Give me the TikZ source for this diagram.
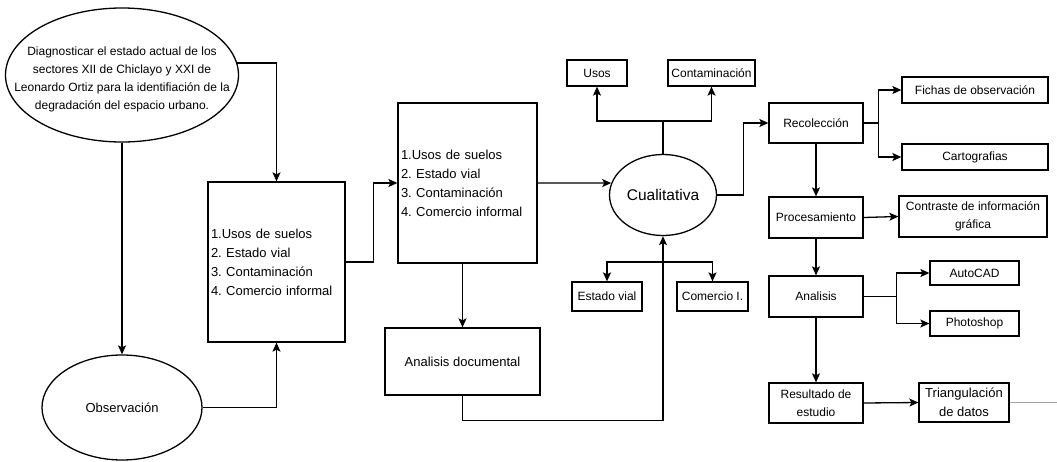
\documentclass[tikz,border=0pt]{standalone}
\usepackage{fontspec}
\setmainfont{Liberation Sans}
\usetikzlibrary{arrows.meta,shapes.geometric}
\begin{document}
\frenchspacing
\begin{tikzpicture}[x=1pt,y=-1pt,
  line width=1.3pt,
  arr/.style={-{Stealth[length=9pt,width=8pt,inset=2pt]}},
  box/.style={draw, rectangle, inner sep=2pt, align=center, font=\fontsize{12}{18}\selectfont},
  oval/.style={draw, ellipse, inner sep=0pt},
  txt/.style={align=center, inner sep=0pt, font=\fontsize{12}{18}\selectfont},
  listbox/.style={draw, rectangle, inner xsep=3pt, align=left, font=\fontsize{13}{19}\selectfont, minimum height=160pt}
]
\useasboundingbox (0,0) rectangle (1057,461);

% left part
\node[oval, minimum width=233pt, minimum height=134pt] (diag) at (122,75) {};
\node[txt] (diagt) at (122,79) {Diagnosticar el estado actual de los\\sectores XII de Chiclayo y XXI de\\Leonardo Ortiz para la identifiación de la\\degradación del espacio urbano.};
\node[oval, minimum width=160pt, minimum height=105pt, font=\fontsize{13}{16}\selectfont] (obs) at (122,407.5) {Observación};
\node[listbox, minimum width=137pt, text width=131pt] (b1) at (276.5,262) {1.Usos de suelos\\2. Estado vial\\3. Contaminación\\4. Comercio informal};
\node[listbox, minimum width=139pt, text width=133pt] (b2) at (467.5,183) {1.Usos de suelos\\2. Estado vial\\3. Contaminación\\4. Comercio informal};
\node[box, minimum width=155pt, minimum height=67pt, font=\fontsize{13}{16}\selectfont] (ad) at (462.5,361.5) {Analisis documental};

% middle
\node[oval, minimum width=107pt, minimum height=81pt, font=\fontsize{15.5}{18}\selectfont] (cual) at (663,195) {Cualitativa};
\node[box, minimum width=60pt, minimum height=26pt] (usos) at (597,73) {Usos};
\node[box, minimum width=87pt, minimum height=26pt] (cont) at (711.5,73) {Contaminación};
\node[box, minimum width=70pt, minimum height=29pt] (ev) at (607,296.5) {Estado vial};
\node[box, minimum width=71pt, minimum height=29pt] (ci) at (712.5,296.5) {Comercio I.};

% right
\node[box, minimum width=94pt, minimum height=40pt] (rec) at (816,123) {Recolección};
\node[box, minimum width=146pt, minimum height=26pt] (fichas) at (975,90) {Fichas de observación};
\node[box, minimum width=146pt, minimum height=26pt] (carto) at (975,157) {Cartografias};
\node[box, minimum width=94pt, minimum height=41pt] (proc) at (816,217.5) {Procesamiento};
\node[box, minimum width=148pt, minimum height=41pt] (contr) at (973,216.5) {Contraste de información\\gráfica};
\node[box, minimum width=94pt, minimum height=41pt] (anal) at (816,296.5) {Analisis};
\node[box, minimum width=89pt, minimum height=24pt] (auto) at (974.5,273) {AutoCAD};
\node[box, minimum width=89pt, minimum height=25pt] (photo) at (974.5,323.5) {Photoshop};
\node[box, minimum width=94pt, minimum height=40pt] (res) at (816,403) {Resultado de\\estudio};
\node[box, minimum width=90pt, minimum height=39pt, font=\fontsize{13}{19}\selectfont] (tri) at (964,402.5) {Triangulación\\de datos};
\coordinate (tend) at (1057,402.5);

% connectors
\draw[arr] (diag.6) -| (b1.north);
\draw[arr] (diag.south) -- (obs.north);
\draw[arr] (obs.east) -| (b1.south);
\draw[arr] (b1.east) -- ++(28,0) |- (b2.west);
\draw[arr] (b2.east) -- (cual.167);
\draw (cual.north) -- ++(0,-33) coordinate (up);
\draw[arr] (up) -| (usos.south);
\draw[arr] (up) -| (cont.south);
\draw[arr] (ad.north |- b2.south) -- (ad.north);
\draw[arr] (ad.south) -- ++(0,25) -| (cual.south);
\coordinate (dn) at (cual.south |- 0,262);
\draw[arr] (dn) -| (ev.north);
\draw[arr] (dn) -| (ci.north);
\draw[arr] (cual.east) -- ++(26.5,0) |- (rec.west);
\draw (rec.east) -- ++(15,0) coordinate (rs);
\draw[arr] (rs) |- (fichas.west);
\draw[arr] (rs) |- (carto.west);
\draw[arr] (rec.south) -- (proc.north);
\draw[arr] (proc.east) -- (contr.west);
\draw[arr] (proc.south) -- (anal.north);
\draw (anal.east) -- ++(33,0) coordinate (as);
\draw[arr] (as) |- (auto.west);
\draw[arr] (as) |- (photo.west);
\draw[arr] (anal.south) -- (res.north);
\draw[arr] (res.east) -- (tri.west);
\draw[gray!70, line width=1pt] (tri.east) -- (tend);
\end{tikzpicture}
\end{document}
